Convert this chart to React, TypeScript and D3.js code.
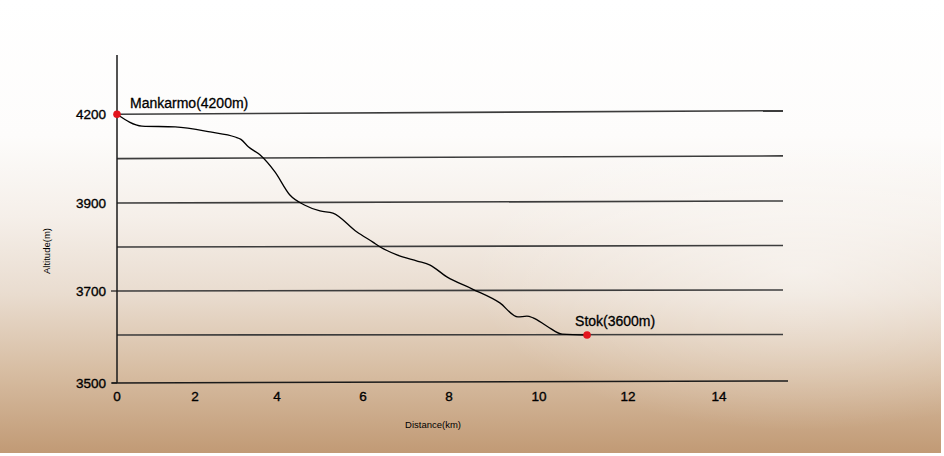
import React, { useRef, useEffect } from 'react';
import * as d3 from 'd3';

// trail profile: distance (km) / altitude (m)
const distance = [
  0, 0.64, 1.49, 2.37, 2.98, 3.12, 3.3, 3.59, 3.95, 4.3, 4.65, 5.0, 5.3, 5.86,
  6.23, 6.4, 6.79, 7.26, 7.56, 7.95, 8.51, 9.13, 9.53, 9.73, 9.87, 10.18, 10.52, 11.08,
];
const altitude = [
  4200, 4160, 4157, 4140, 4123, 4115, 4090, 4062, 4005, 3927, 3895, 3882, 3877, 3834,
  3811, 3800, 3782, 3768, 3759, 3732, 3705, 3673, 3641, 3643, 3639, 3620, 3602, 3600,
];

const places = ['Mankarmo(4200m)', 'Stok(3600m)'];
const placeDistance = [0, 11.08];
const placeAltitude = [4200, 3600];

const xTicks = [0, 2, 4, 6, 8, 10, 12, 14];
const yTickLabels = [4200, 3900, 3700, 3500];
const gridLevels = [4200, 4050, 3900, 3800, 3700, 3600];

const W = 944;
const H = 456;

const ElevationProfile: React.FC = () => {
  const svgRef = useRef<SVGSVGElement | null>(null);

  useEffect(() => {
    const svg = d3.select(svgRef.current!);
    svg.selectAll('*').remove();

    const font = 'Liberation Sans, Arial, Helvetica, sans-serif';

    // the hand drawn axes are not evenly spaced, so both scales are piecewise
    const x = d3.scaleLinear()
      .domain([0, 2, 4, 6, 8, 10, 12, 14])
      .range([117, 195, 277, 363, 449, 539, 628, 719]);
    const y = d3.scaleLinear()
      .domain([3500, 3600, 3900, 4400])
      .range([383, 335, 203, 55]);

    const defs = svg.append('defs');
    const bg = defs.append('linearGradient')
      .attr('id', 'bg')
      .attr('x1', 0).attr('y1', 0).attr('x2', 0).attr('y2', 1);
    [
      [0, '#ffffff'],
      [0.3, '#fdfcfb'],
      [0.48, '#f5efe9'],
      [0.65, '#e9dccf'],
      [0.82, '#d7bda2'],
      [1, '#c19a75'],
    ].forEach(([o, c]) => bg.append('stop').attr('offset', o as number).attr('stop-color', c as string));

    const glow = defs.append('radialGradient')
      .attr('id', 'glow')
      .attr('cx', 0.85).attr('cy', 0.6).attr('r', 0.35);
    glow.append('stop').attr('offset', 0).attr('stop-color', '#ffffff').attr('stop-opacity', 0.5);
    glow.append('stop').attr('offset', 1).attr('stop-color', '#ffffff').attr('stop-opacity', 0);

    svg.append('rect').attr('width', W).attr('height', H).attr('fill', '#ffffff');
    svg.append('rect').attr('width', W - 3).attr('height', H - 3).attr('fill', 'url(#bg)');
    svg.append('rect').attr('width', W - 3).attr('height', H - 3).attr('fill', 'url(#glow)');

    // grid lines
    svg.append('g')
      .selectAll('line')
      .data(gridLevels)
      .join('line')
      .attr('x1', x(0))
      .attr('x2', 783)
      .attr('y1', (d) => y(d))
      .attr('y2', (d) => y(d) - (d - 3500) / 200)
      .attr('stroke', '#3c3c3c')
      .attr('stroke-width', 1.6);

    // x axis
    const xAxis = svg.append('g').attr('transform', `translate(0,${y(3500)})`);
    xAxis.append('line')
      .attr('x1', x(0) - 5).attr('x2', 788)
      .attr('y1', 0).attr('y2', -2)
      .attr('stroke', '#1a1a1a').attr('stroke-width', 1.5);
    xAxis.selectAll('text')
      .data(xTicks)
      .join('text')
      .attr('x', (d) => x(d))
      .attr('y', 18)
      .attr('text-anchor', 'middle')
      .attr('font-family', font)
      .attr('font-size', 13.5)
      .attr('fill', '#000')
      .attr('stroke', '#000')
      .attr('stroke-width', 0.35)
      .text((d) => d);

    // y axis
    const yAxis = svg.append('g').attr('transform', `translate(${x(0)},0)`);
    yAxis.append('line')
      .attr('x1', 0).attr('x2', 0)
      .attr('y1', y(4400)).attr('y2', y(3500))
      .attr('stroke', '#1a1a1a').attr('stroke-width', 1.5);
    yAxis.selectAll('line.tick')
      .data(yTickLabels.filter((d) => d < 3900))
      .join('line')
      .attr('class', 'tick')
      .attr('x1', -6).attr('x2', 0)
      .attr('y1', (d) => y(d)).attr('y2', (d) => y(d))
      .attr('stroke', '#1a1a1a').attr('stroke-width', 1.2);
    yAxis.selectAll('text')
      .data(yTickLabels)
      .join('text')
      .attr('x', -11)
      .attr('y', (d) => y(d) + 5)
      .attr('text-anchor', 'end')
      .attr('font-family', font)
      .attr('font-size', 13.5)
      .attr('fill', '#000')
      .attr('stroke', '#000')
      .attr('stroke-width', 0.35)
      .text((d) => d);

    // axis titles
    svg.append('text')
      .attr('transform', 'translate(50,251) rotate(-90)')
      .attr('text-anchor', 'middle')
      .attr('font-family', font)
      .attr('font-size', 9.5)
      .attr('fill', '#000')
      .text('Altitude(m)');
    svg.append('text')
      .attr('x', 433)
      .attr('y', 428)
      .attr('text-anchor', 'middle')
      .attr('font-family', font)
      .attr('font-size', 9.5)
      .attr('fill', '#000')
      .text('Distance(km)');

    // profile line
    const line = d3.line<number>()
      .x((d) => x(d))
      .y((_, i) => y(altitude[i]))
      .curve(d3.curveMonotoneX);

    svg.append('path')
      .datum(distance)
      .attr('fill', 'none')
      .attr('stroke', '#000')
      .attr('stroke-width', 1.3)
      .attr('d', line);

    // start and end points
    svg.append('g')
      .selectAll('circle')
      .data(places)
      .join('circle')
      .attr('cx', (_, i) => x(placeDistance[i]))
      .attr('cy', (_, i) => y(placeAltitude[i]))
      .attr('r', 3.8)
      .attr('fill', '#e3141c');

    svg.append('g')
      .selectAll('text')
      .data(places)
      .join('text')
      .attr('x', (_, i) => x(placeDistance[i]) + (i === 0 ? 13 : -12))
      .attr('y', (_, i) => y(placeAltitude[i]) - (i === 0 ? 6 : 9))
      .attr('font-family', font)
      .attr('font-size', 14)
      .attr('fill', '#000')
      .attr('stroke', '#000')
      .attr('stroke-width', 0.3)
      .text((d) => d);
  }, []);

  return <svg ref={svgRef} width={W} height={H} style={{ display: 'block' }}></svg>;
};

export default function App() {
  return (
    <div style={{ position: 'absolute', left: 0, top: 0 }}>
      <ElevationProfile />
    </div>
  );
}
